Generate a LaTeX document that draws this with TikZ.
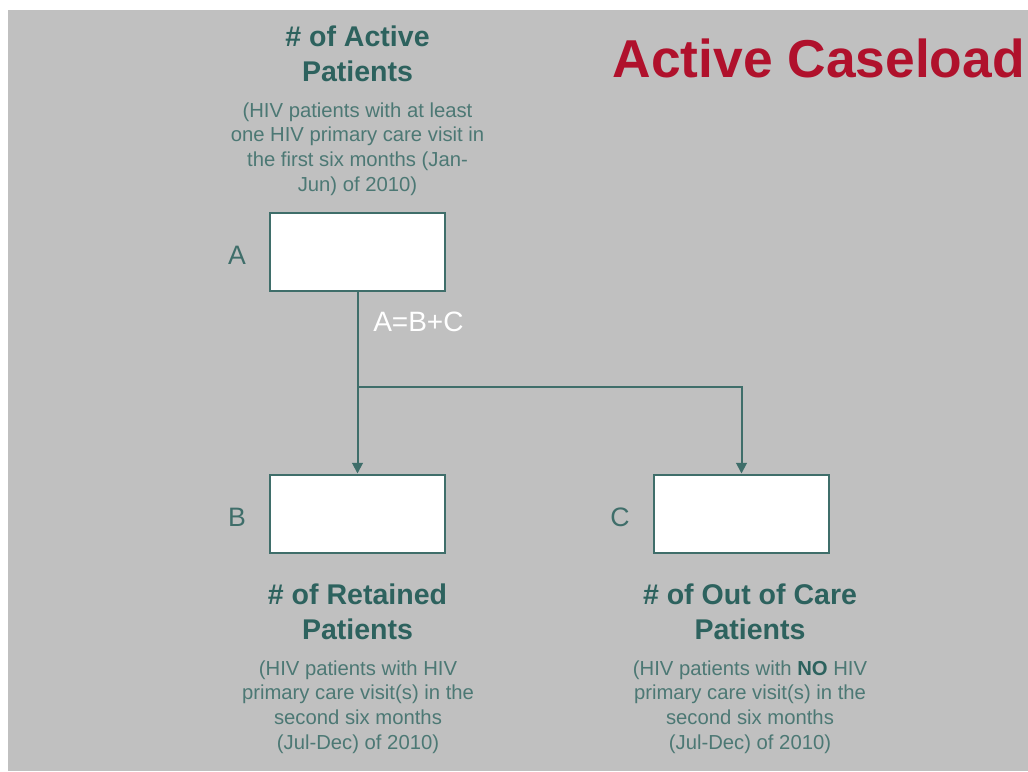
\documentclass[tikz,border=0pt]{standalone}
\usepackage{fontspec}
\setmainfont{Liberation Sans}
\usetikzlibrary{arrows.meta}
\definecolor{bggrey}{HTML}{C0C0C0}
\definecolor{headteal}{HTML}{2D625E}
\definecolor{bodyteal}{HTML}{4C7874}
\definecolor{lineteal}{HTML}{3F6E6A}
\definecolor{titlered}{HTML}{B0112C}
\tikzset{
  box/.style={draw=lineteal, fill=white, line width=1.5pt, minimum width=175*0.75pt, minimum height=78*0.75pt, inner sep=0pt},
  heading/.style={text=headteal, font=\fontsize{21.4pt}{26.3pt}\selectfont\bfseries, align=center, inner sep=0pt},
  bodytext/.style={text=bodyteal, font=\fontsize{15.2pt}{18.4pt}\selectfont, align=center, inner sep=0pt},
  letter/.style={text=lineteal, font=\fontsize{20pt}{24pt}\selectfont, inner sep=0pt},
  conn/.style={draw=lineteal, line width=1.5pt, -{Triangle[width=8pt,length=8pt]}}
}
\begin{document}
\begin{tikzpicture}[x=0.75pt,y=-0.75pt]
\useasboundingbox (0,0) rectangle (1028,771);
\fill[white] (0,0) rectangle (1028,771);
\fill[bggrey] (8,10) rectangle (1028,771);
\node[text=titlered, font=\fontsize{40pt}{48pt}\selectfont\bfseries, inner sep=0pt, anchor=base east] (title) at (1025,77) {Active Caseload};
\node[heading] (hA) at (357.5,54) {\# of Active\\Patients};
\node[bodytext] (dA) at (357.5,149) {(HIV patients with at least\\one HIV primary care visit in\\the first six months (Jan-\\Jun) of 2010)};
\node[box] (A) at (357.5,252) {};
\node[box] (B) at (357.5,513.5) {};
\node[box] (C) at (741.5,513.5) {};
\node[letter] (lA) at (237,255) {A};
\node[letter] (lB) at (237,517) {B};
\node[letter] (lC) at (620,517) {C};
\node[text=white, font=\fontsize{21pt}{25pt}\selectfont, inner sep=0pt, anchor=west] (eq) at (373,322) {A=B+C};
\coordinate (j) at (357.5,387);
\draw[conn] (A.south) -- (B.north);
\draw[conn] (j) -| (C.north);
\node[heading] (hB) at (357.5,612) {\# of Retained\\Patients};
\node[bodytext] (dB) at (358,707) {(HIV patients with HIV\\primary care visit(s) in the\\second six months\\(Jul-Dec) of 2010)};
\node[heading] (hC) at (750,612) {\# of Out of Care\\Patients};
\node[bodytext] (dC) at (750,707) {(HIV patients with \textbf{\textcolor{headteal}{NO}} HIV\\primary care visit(s) in the\\second six months\\(Jul-Dec) of 2010)};
\end{tikzpicture}
\end{document}
